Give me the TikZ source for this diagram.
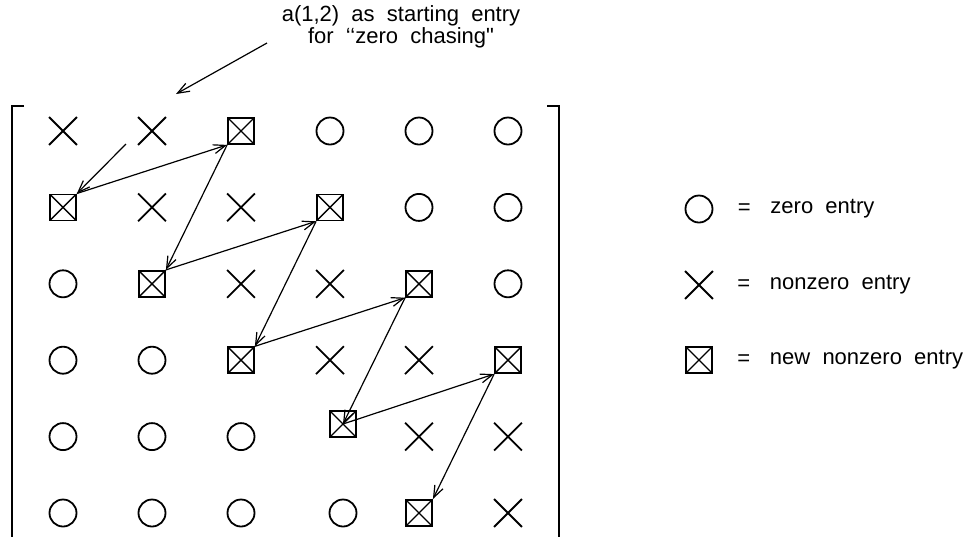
\documentclass[tikz,border=0pt]{standalone}
\usepackage{fontspec}
\setmainfont{Liberation Sans}[Ligatures=TeXOff]
\usetikzlibrary{arrows.meta,shapes.misc,positioning}

\tikzset{
    zero/.style={circle,draw,line width=0.9pt,minimum size=13.5pt,inner sep=0pt},
    nonzero/.style={cross out,draw,line width=0.9pt,minimum size=13pt,inner sep=0pt},
    newnz/.style={rectangle,draw,line width=0.9pt,minimum size=13pt,inner sep=0pt,
        path picture={\draw[line width=0.7pt] (path picture bounding box.south west) -- (path picture bounding box.north east)
            (path picture bounding box.north west) -- (path picture bounding box.south east);}},
    chase/.style={-{Straight Barb[length=6pt,width=4.5pt]},line width=0.6pt},
    bracket/.style={line width=1pt},
    lbl/.style={inner sep=0pt,font=\fontsize{11}{10}\selectfont}
}

\begin{document}
\begin{tikzpicture}[x=0.5pt,y=-0.5pt]
    \useasboundingbox (0,0) rectangle (966,537);
    \draw[bracket] (24,106) -- (12,106) -- (12,537);
    \draw[bracket] (547,106) -- (559,106) -- (559,537);
    \foreach \r/\c in {1/4,1/5,1/6,2/5,2/6,3/1,3/6,4/1,4/2,5/1,5/2,5/3,6/1,6/2,6/3} {
        \node[zero] (e-\r-\c) at ({89*\c-26},{76.4*\r+54.6}) {};
    }
    \foreach \r/\c in {1/1,1/2,2/2,2/3,3/3,3/4,4/4,4/5,5/5,5/6,6/6} {
        \node[nonzero] (e-\r-\c) at ({89*\c-26},{76.4*\r+54.6}) {};
    }
    \foreach \r/\c in {1/3,2/1,2/4,3/2,3/5,4/3,4/6,6/5} {
        \node[newnz] (e-\r-\c) at ({89*\c-26},{76.4*\r+54.6}) {};
    }
    \node[newnz] (e-5-4) at (343,424) {};
    \node[zero] (e-6-4) at (343,513) {};
    \coordinate (cstart) at (126,144);
    \foreach \a/\b in {cstart/e-2-1.north east, e-2-1.north east/e-1-3.south west,
        e-1-3.south west/e-3-2.north east, e-3-2.north east/e-2-4.south west,
        e-2-4.south west/e-4-3.north east, e-4-3.north east/e-3-5.south west,
        e-3-5.south west/e-5-4.center, e-5-4.center/e-4-6.south west,
        e-4-6.south west/e-6-5.north east} {
        \draw[chase] (\a) -- (\b);
    }
    \node[lbl,align=center] (note) at (401,27) {a(1,2)~~as~~starting~~entry\\for~~‘‘zero~~chasing"};
    \coordinate (ntail) at (267,43);
    \coordinate (ntip) at (176,94);
    \draw[chase] (ntail) -- (ntip);
    \node[zero] (lzero) at (699,209) {};
    \node[nonzero] (lnz) at (699,285) {};
    \node[newnz] (lnew) at (699,360) {};
    \node[lbl,right=12pt of lzero] (eqa) {=};
    \node[lbl,right=12pt of lnz] (eqb) {=};
    \node[lbl,right=12pt of lnew] (eqc) {=};
    \node[lbl,right=9.5pt of eqa] {zero~~entry};
    \node[lbl,right=9.5pt of eqb] {nonzero~~entry};
    \node[lbl,right=9.5pt of eqc] {new~~nonzero~~entry};
\end{tikzpicture}
\end{document}
